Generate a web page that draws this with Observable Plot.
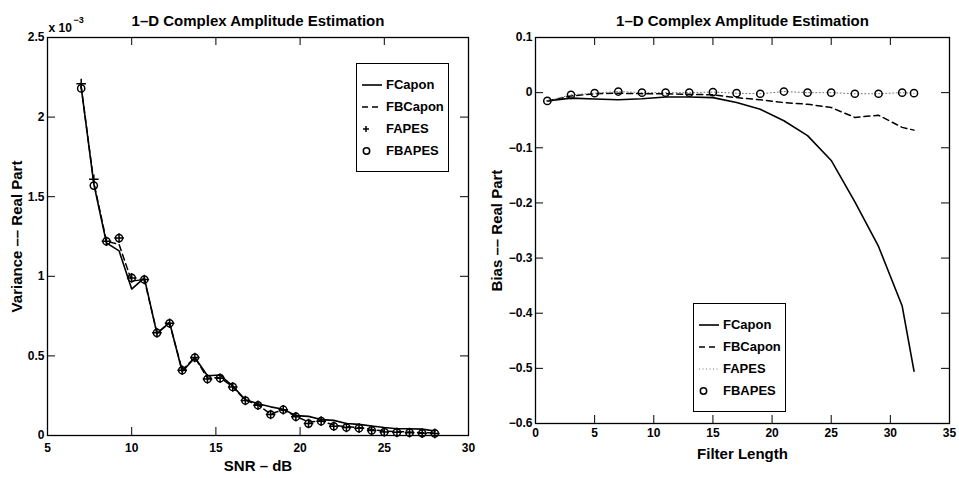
<!DOCTYPE html>
<html><head><meta charset="utf-8">
<script src="https://cdn.jsdelivr.net/npm/d3@7"></script>
<script src="https://cdn.jsdelivr.net/npm/@observablehq/plot@0.6"></script>
<style>
body{margin:0;background:#fff;}
#wrap{position:relative;width:959px;height:478px;font-family:"Liberation Sans",Arial,sans-serif;font-weight:bold;background:#fff;}
.panel{position:absolute;top:0;}
.legend{position:absolute;border:1px solid #000;background:#fff;box-sizing:border-box;width:93px;height:109px;}
.legend .row{position:absolute;left:0;height:18px;width:92px;}
.legend .row svg{position:absolute;left:0;top:0;}
.legend .row span{position:absolute;left:29px;top:1px;font-size:13px;line-height:16px;color:#000;}
</style></head><body><div id="wrap"></div>
<script>
// ---------- Left panel: variance vs SNR (values in units of 1e-3) ----------
const snr = [7, 7.75, 8.5, 9.25, 10, 10.75, 11.5, 12.25, 13, 13.75, 14.5, 15.25, 16, 16.75, 17.5, 18.25, 19, 19.75, 20.5, 21.25, 22, 22.75, 23.5, 24.25, 25, 25.75, 26.5, 27.25, 28];
const varFCapon  = [2.19, 1.58, 1.21, 1.16, 0.92, 0.99, 0.64, 0.71, 0.40, 0.49, 0.375, 0.38, 0.31, 0.225, 0.20, 0.18, 0.165, 0.125, 0.12, 0.10, 0.095, 0.075, 0.07, 0.06, 0.05, 0.042, 0.042, 0.04, 0.028];
const varFBCapon = [2.19, 1.59, 1.22, 1.20, 0.97, 0.98, 0.645, 0.705, 0.41, 0.49, 0.36, 0.365, 0.305, 0.222, 0.192, 0.135, 0.162, 0.12, 0.085, 0.092, 0.065, 0.055, 0.05, 0.038, 0.028, 0.025, 0.022, 0.018, 0.016];
const varFAPES   = [2.21, 1.61, 1.22, 1.24, 0.99, 0.98, 0.645, 0.705, 0.41, 0.49, 0.355, 0.36, 0.305, 0.22, 0.19, 0.132, 0.162, 0.118, 0.075, 0.09, 0.058, 0.05, 0.046, 0.032, 0.022, 0.02, 0.018, 0.014, 0.013];
const varFBAPES  = [2.18, 1.57, 1.22, 1.24, 0.99, 0.98, 0.645, 0.705, 0.41, 0.49, 0.355, 0.36, 0.305, 0.22, 0.19, 0.132, 0.162, 0.118, 0.075, 0.09, 0.058, 0.05, 0.046, 0.032, 0.022, 0.02, 0.018, 0.014, 0.013];
const leftXTicks = [5, 10, 15, 20, 25, 30];
const leftYTicks = [0, 0.5, 1, 1.5, 2, 2.5];

// ---------- Right panel: bias vs filter length ----------
const filterLen = [1, 3, 5, 7, 9, 11, 13, 15, 17, 19, 21, 23, 25, 27, 29, 31, 32];
const biasFCapon  = [-0.015, -0.010, -0.0115, -0.013, -0.011, -0.008, -0.008, -0.009, -0.018, -0.030, -0.051, -0.078, -0.123, -0.198, -0.279, -0.387, -0.505];
const biasFBCapon = [-0.015, -0.006, -0.002, -0.001, -0.002, -0.002, -0.003, -0.004, -0.009, -0.013, -0.018, -0.021, -0.027, -0.045, -0.041, -0.063, -0.068];
const biasFAPES   = [-0.015, -0.004, -0.001, 0.002, 0, 0, 0, 0.001, -0.001, -0.002, 0.002, 0, 0, -0.002, -0.002, 0, -0.001];
const biasFBAPES  = [-0.015, -0.004, -0.001, 0.002, 0, 0, 0, 0.001, -0.001, -0.002, 0.002, 0, 0, -0.002, -0.002, 0, -0.001];
const rightXTicks = [0, 5, 10, 15, 20, 25, 30, 35];
const rightYTicks = [0.1, 0, -0.1, -0.2, -0.3, -0.4, -0.5, -0.6];

const titleText = "1\u2013D Complex Amplitude Estimation";
const FONT = "'Liberation Sans', Arial, Helvetica, sans-serif";

function panel(o) {
  const W = o.width - o.mL - o.mR, H = o.height - o.mT - o.mB, tk = 8;
  return Plot.plot({
    width: o.width, height: o.height,
    marginLeft: o.mL, marginRight: o.mR, marginTop: o.mT, marginBottom: o.mB,
    x: {domain: o.xDomain}, y: {domain: o.yDomain},
    style: {fontFamily: FONT, fontWeight: "bold", fontSize: "12px", color: "#000", background: "transparent", overflow: "visible"},
    marks: [
      Plot.tickX(o.xTicks, {x: d => d, insetTop: H - tk, stroke: "#000", strokeWidth: 1}),
      Plot.tickX(o.xTicks, {x: d => d, insetBottom: H - tk, stroke: "#000", strokeWidth: 1}),
      Plot.tickY(o.yTicks, {y: d => d, insetRight: W - tk, stroke: "#000", strokeWidth: 1}),
      Plot.tickY(o.yTicks, {y: d => d, insetLeft: W - tk, stroke: "#000", strokeWidth: 1}),
      Plot.axisX({ticks: o.xTicks, tickSize: 0, tickPadding: o.xPad, label: null, fontSize: 12, fontWeight: "bold"}),
      Plot.axisY({ticks: o.yTicks, tickSize: 0, tickPadding: 3, label: null, tickFormat: o.yFmt, fontSize: 12, fontWeight: "bold"}),
      ...o.marks,
      Plot.frame({stroke: "#000", strokeWidth: 1.3}),
      Plot.text([titleText], {frameAnchor: "top", lineAnchor: "middle", textAnchor: "middle", dy: -16, fontSize: 15, fontWeight: "bold", fill: "#000"}),
      Plot.text([o.xLabel], {frameAnchor: "bottom", lineAnchor: "middle", textAnchor: "middle", dy: o.xLabelDy, fontSize: 15, fontWeight: "bold", fill: "#000"}),
      Plot.text([o.yLabel], {frameAnchor: "left", lineAnchor: "middle", textAnchor: "middle", dx: o.yLabelDx, rotate: -90, fontSize: 15, fontWeight: "bold", fill: "#000"}),
      ...(o.extra || [])
    ]
  });
}

const fmtLeft = d => String(d);
const fmtRight = d => d === 0 ? "0" : (d < 0 ? "\u2212" + String(-d) : String(d));

const left = panel({
  width: 480, height: 478, mL: 47, mR: 12, mT: 37, mB: 43,
  xDomain: [5, 30], yDomain: [0, 2.5], xTicks: leftXTicks, yTicks: leftYTicks, yFmt: fmtLeft, xPad: 8,
  xLabel: "SNR \u2013 dB", xLabelDy: 31, yLabel: "Variance \u2013\u2013 Real Part", yLabelDx: -30,
  marks: [
    Plot.lineY(varFCapon, {x: snr, stroke: "#000", strokeWidth: 1.6}),
    Plot.lineY(varFBCapon, {x: snr, stroke: "#000", strokeWidth: 1.5, strokeDasharray: "6,4"}),
    Plot.dot(varFAPES, {x: snr, y: d => d, symbol: "plus", r: 3.2, stroke: "#000", strokeWidth: 1.5}),
    Plot.dot(varFBAPES, {x: snr, y: d => d, r: 3.6, stroke: "#000", strokeWidth: 1.5, fill: "none"})
  ],
  extra: [
    Plot.text(["x 10"], {frameAnchor: "top-left", textAnchor: "start", lineAnchor: "middle", dx: 1, dy: -9, fontSize: 12, fontWeight: "bold", fill: "#000"}),
    Plot.text(["\u22123"], {frameAnchor: "top-left", textAnchor: "start", lineAnchor: "middle", dx: 26, dy: -17, fontSize: 9, fontWeight: "bold", fill: "#000"})
  ]
});

const right = panel({
  width: 479, height: 478, mL: 55, mR: 10, mT: 37, mB: 55,
  xDomain: [0, 35], yDomain: [-0.6, 0.1], xTicks: rightXTicks, yTicks: rightYTicks, yFmt: fmtRight, xPad: 5,
  xLabel: "Filter Length", xLabelDy: 31, yLabel: "Bias \u2013\u2013 Real Part", yLabelDx: -38,
  marks: [
    Plot.lineY(biasFCapon, {x: filterLen, stroke: "#000", strokeWidth: 1.6}),
    Plot.lineY(biasFBCapon, {x: filterLen, stroke: "#000", strokeWidth: 1.5, strokeDasharray: "6,4"}),
    Plot.lineY(biasFAPES, {x: filterLen, stroke: "#777", strokeWidth: 1, strokeDasharray: "1,2.5"}),
    Plot.dot(biasFBAPES, {x: filterLen, y: d => d, r: 3.6, stroke: "#000", strokeWidth: 1.5, fill: "none"})
  ]
});

const wrap = document.getElementById("wrap");
left.classList.add("panel"); left.style.left = "0px";
right.classList.add("panel"); right.style.left = "480px";
wrap.appendChild(left);
wrap.appendChild(right);

// ---------- Legends ----------
const legendNames = ["FCapon", "FBCapon", "FAPES", "FBAPES"];
function sample(kind) {
  const ns = "http://www.w3.org/2000/svg";
  const s = document.createElementNS(ns, "svg");
  s.setAttribute("width", "28"); s.setAttribute("height", "18");
  const add = (tag, attrs) => { const e = document.createElementNS(ns, tag); for (const k in attrs) e.setAttribute(k, attrs[k]); s.appendChild(e); };
  if (kind === "solid") add("line", {x1: 5, x2: 25, y1: 9, y2: 9, stroke: "#000", "stroke-width": 1.6});
  if (kind === "dashed") add("line", {x1: 5, x2: 25, y1: 9, y2: 9, stroke: "#000", "stroke-width": 1.5, "stroke-dasharray": "6,4"});
  if (kind === "dotted") add("line", {x1: 5, x2: 25, y1: 9, y2: 9, stroke: "#777", "stroke-width": 1, "stroke-dasharray": "1,2.5"});
  if (kind === "plus") add("path", {d: "M6,9h6M9,6v6", stroke: "#000", "stroke-width": 1.5});
  if (kind === "circle") add("circle", {cx: 9.5, cy: 9, r: 3.2, stroke: "#000", "stroke-width": 1.5, fill: "none"});
  return s;
}
function legend(leftPx, topPx, kinds) {
  const box = document.createElement("div");
  box.className = "legend";
  box.style.left = leftPx + "px"; box.style.top = topPx + "px";
  legendNames.forEach((name, i) => {
    const row = document.createElement("div");
    row.className = "row";
    row.style.top = (12 + 22 * i) + "px";
    row.appendChild(sample(kinds[i]));
    const sp = document.createElement("span"); sp.textContent = name;
    row.appendChild(sp);
    box.appendChild(row);
  });
  wrap.appendChild(box);
}
legend(356, 63, ["solid", "dashed", "plus", "circle"]);
legend(693, 303, ["solid", "dashed", "dotted", "circle"]);
</script>
</body></html>
